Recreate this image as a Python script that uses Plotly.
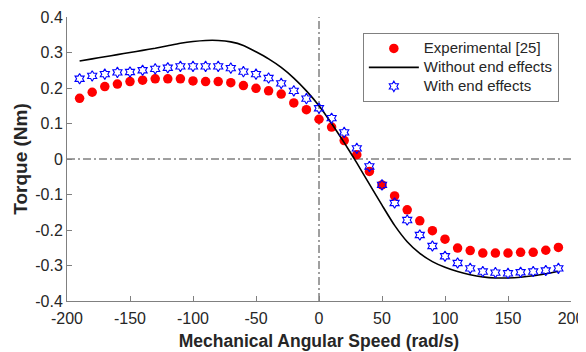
import plotly.graph_objects as go

speed = [-190, -180, -170, -160, -150, -140, -130, -120, -110, -100,
         -90, -80, -70, -60, -50, -40, -30, -20, -10, 0,
         10, 20, 30, 40, 50, 60, 70, 80, 90, 100,
         110, 120, 130, 140, 150, 160, 170, 180, 190]

experimental = [0.171, 0.188, 0.204, 0.211, 0.218, 0.222, 0.226, 0.226, 0.226, 0.220,
                0.218, 0.218, 0.215, 0.207, 0.199, 0.192, 0.183, 0.158, 0.139, 0.112,
                0.090, 0.052, 0.012, -0.035, -0.073, -0.104, -0.143, -0.174, -0.202, -0.226,
                -0.251, -0.258, -0.265, -0.265, -0.265, -0.263, -0.263, -0.257, -0.249]

without_end = [0.276, 0.282, 0.288, 0.294, 0.300, 0.306, 0.312, 0.319, 0.326, 0.331,
               0.334, 0.334, 0.330, 0.320, 0.302, 0.282, 0.258, 0.228, 0.192, 0.150,
               0.100, 0.046, -0.011, -0.071, -0.130, -0.187, -0.233, -0.266, -0.289, -0.305,
               -0.317, -0.326, -0.332, -0.335, -0.335, -0.333, -0.329, -0.323, -0.316]

with_end = [0.226, 0.234, 0.239, 0.244, 0.245, 0.250, 0.254, 0.257, 0.261, 0.261,
            0.261, 0.261, 0.256, 0.246, 0.239, 0.228, 0.213, 0.192, 0.170, 0.143,
            0.115, 0.075, 0.030, -0.021, -0.073, -0.124, -0.172, -0.214, -0.245, -0.274,
            -0.293, -0.308, -0.317, -0.320, -0.322, -0.319, -0.317, -0.314, -0.308]

series_names = ["Experimental [25]", "Without end effects", "With end effects"]

x_ticks = [-200, -150, -100, -50, 0, 50, 100, 150, 200]
x_tick_text = ["-200", "-150", "-100", "-50", "0", "50", "100", "150", "200"]
y_ticks = [-0.4, -0.3, -0.2, -0.1, 0, 0.1, 0.2, 0.3, 0.4]
y_tick_text = ["-0.4", "-0.3", "-0.2", "-0.1", "0", "0.1", "0.2", "0.3", "0.4"]

FONT = "Liberation Sans, Arial, sans-serif"
TXT = "#262626"
AX = "#808080"
REF = "#404040"


def legend_label(s):
    return '<span style="font-size:15px">' + s + "</span>"


fig = go.Figure()

fig.add_trace(go.Scatter(
    x=speed, y=experimental, mode="markers", name=legend_label(series_names[0]),
    marker=dict(symbol="circle", size=9.5, color="#ff0000", line=dict(width=0)),
))
fig.add_trace(go.Scatter(
    x=speed, y=without_end, mode="lines", name=legend_label(series_names[1]),
    line=dict(color="#000000", width=1.6, shape="spline", smoothing=0.6),
))
fig.add_trace(go.Scatter(
    x=speed, y=with_end, mode="markers", name=legend_label(series_names[2]),
    marker=dict(symbol="hexagram-open", size=8, color="#0000ff", line=dict(width=1.1, color="#0000ff")),
))

fig.add_hline(y=0, line=dict(color=REF, width=1, dash="8px,3px,2px,3px"), layer="below")
fig.add_vline(x=0, line=dict(color=REF, width=1, dash="8px,3px,2px,3px"), layer="below")

# page body has an 8px offset, so the figure is 8px smaller and margins shifted
fig.update_layout(
    width=578, height=344,
    margin=dict(l=59, r=15, t=9, b=51, autoexpand=False),
    paper_bgcolor="white", plot_bgcolor="white",
    font=dict(family=FONT, size=16, color=TXT),
    showlegend=True,
    legend=dict(
        x=0.587, y=0.944, xanchor="left", yanchor="top",
        bgcolor="white", bordercolor=AX, borderwidth=1,
        font=dict(family=FONT, size=12, color=TXT),
        itemwidth=50, tracegroupgap=0,
    ),
    xaxis=dict(
        range=[-200, 200], tickvals=x_ticks, ticktext=x_tick_text,
        ticks="inside", ticklen=5, tickcolor=AX, tickwidth=1,
        showline=True, linecolor=AX, linewidth=1, mirror=False,
        showgrid=False, zeroline=False, automargin=False,
        ticklabelstandoff=3,
        tickfont=dict(family=FONT, size=16, color=TXT),
        title=dict(text="<b>Mechanical Angular Speed (rad/s)</b>",
                   font=dict(family=FONT, size=17.5, color=TXT), standoff=8),
    ),
    yaxis=dict(
        range=[-0.4, 0.4], tickvals=y_ticks, ticktext=y_tick_text,
        ticks="inside", ticklen=5, tickcolor=AX, tickwidth=1,
        showline=True, linecolor=AX, linewidth=1, mirror=False,
        showgrid=False, zeroline=False, automargin=False,
        tickfont=dict(family=FONT, size=16, color=TXT),
        title=dict(text="<b>Torque (Nm)</b>",
                   font=dict(family=FONT, size=19, color=TXT), standoff=2),
    ),
)

fig.write_html("out.html")
